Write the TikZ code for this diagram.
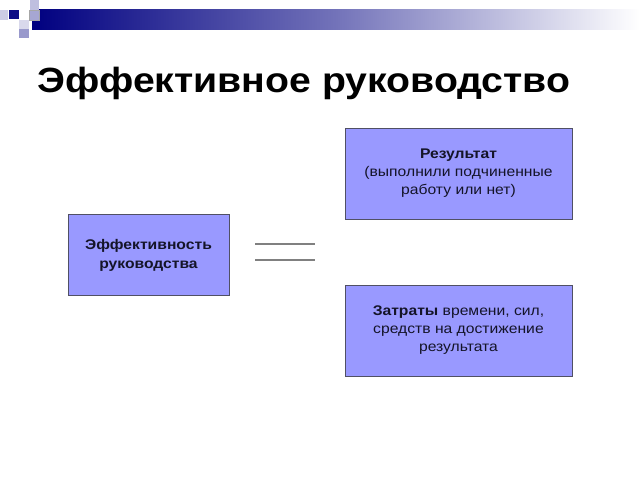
\documentclass[tikz,border=0pt]{standalone}
\usepackage{fontspec}
\setmainfont[FakeStretch=1.12]{Liberation Sans}
\definecolor{boxfill}{RGB}{153,153,255}
\definecolor{boxline}{RGB}{80,80,100}
\definecolor{navy}{RGB}{0,0,128}
\definecolor{txt}{RGB}{20,20,40}
\tikzset{
  infobox/.style={draw=boxline, line width=0.8pt, fill=boxfill, text=txt, align=center,
    font=\fontsize{14}{18}\selectfont, inner sep=0pt},
  eqline/.style={draw=gray, line width=1.1pt}
}
\begin{document}
\begin{tikzpicture}[x=1pt,y=-1pt]
\useasboundingbox (0,0) rectangle (640,480);
% decoration
\shade[left color=navy, right color=white, middle color=navy!55] (32,9) rectangle (640,29);
\fill[navy] (32,9) rectangle (40,29);
\fill[navy!20] (0,10) rectangle (8,20);
\fill[navy!95] (9,10) rectangle (19,19);
\fill[navy!25] (30,0) rectangle (39,10);
\fill[navy!35] (29,10) rectangle (39,20);
\draw[gray!70, line width=0.5pt] (29,10) rectangle (39,20);
\fill[navy!15] (19,20) rectangle (29,29);
\fill[navy!40] (19,29) rectangle (29,38);
% title
\node[anchor=base west, inner sep=0pt, font=\bfseries\fontsize{35}{40}\selectfont, text=black] (title) at (37,92) {Эффективное руководство};
% boxes
\node[infobox, minimum width=161pt, minimum height=81pt, font=\bfseries\fontsize{14}{19}\selectfont] (eff) at (148.5,255) {Эффективность\\руководства};
\node[infobox, minimum width=227pt, minimum height=91pt] (res) at (458.5,173.5) {\textbf{Результат}\\(выполнили подчиненные\\работу или нет)};
\node[infobox, minimum width=227pt, minimum height=91pt] (cost) at (458.5,330.5) {\textbf{Затраты} времени, сил,\\средств на достижение\\результата};
% fraction-like lines
\coordinate (l1a) at (255,244); \coordinate (l1b) at (315,244);
\coordinate (l2a) at (255,260); \coordinate (l2b) at (315,260);
\draw[eqline] (l1a) -- (l1b);
\draw[eqline] (l2a) -- (l2b);
\end{tikzpicture}
\end{document}
